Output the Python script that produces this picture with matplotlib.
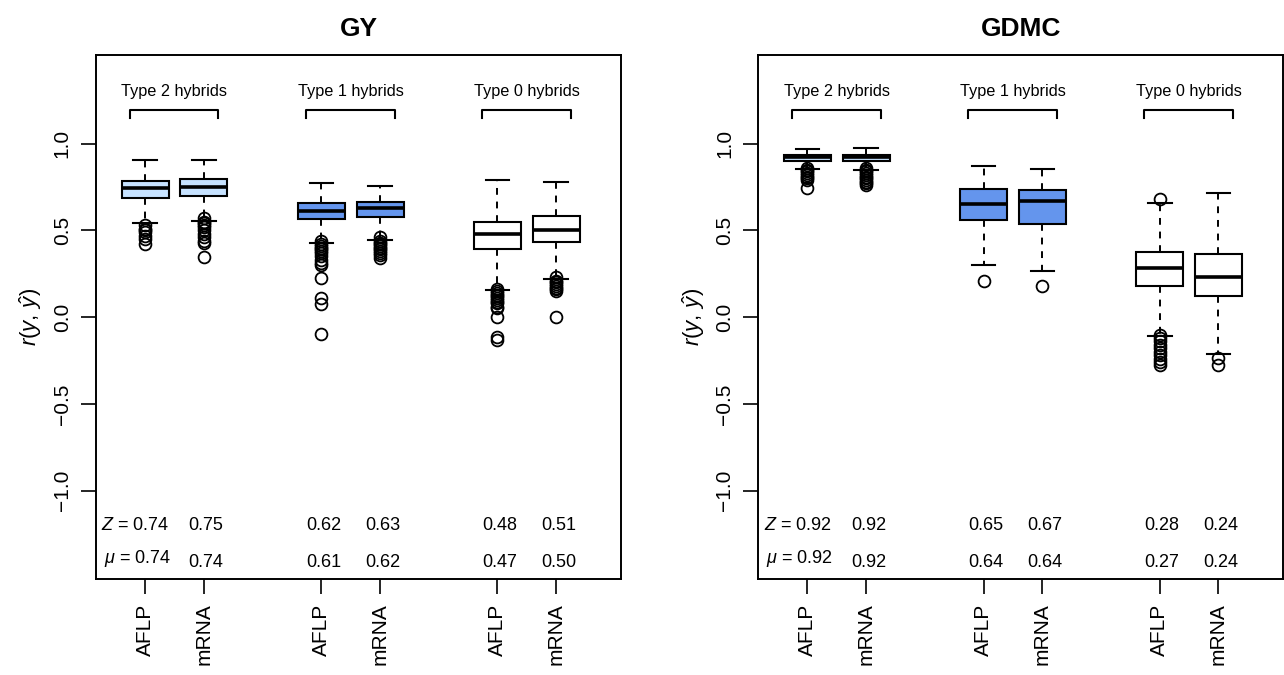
import matplotlib
matplotlib.use('Agg')
import matplotlib.pyplot as plt

plt.rcParams['font.family'] = ['Liberation Sans', 'DejaVu Sans']
plt.rcParams['mathtext.fontset'] = 'custom'
plt.rcParams['mathtext.rm'] = 'Liberation Sans'
plt.rcParams['mathtext.it'] = 'Liberation Sans:italic'

# box positions and labels
positions = [1, 2, 4, 5, 7, 8]
markers = ['AFLP', 'mRNA', 'AFLP', 'mRNA', 'AFLP', 'mRNA']
groups = ['Type 2 hybrids', 'Type 1 hybrids', 'Type 0 hybrids']
group_colors = ['#C6E2FF', '#6495ED', '#FFFFFF']

# GY boxplot stats
gy_med = [0.745, 0.747, 0.614, 0.626, 0.478, 0.503]
gy_q1 = [0.688, 0.697, 0.563, 0.578, 0.390, 0.432]
gy_q3 = [0.787, 0.793, 0.659, 0.666, 0.549, 0.582]
gy_lo = [0.540, 0.555, 0.430, 0.445, 0.159, 0.221]
gy_hi = [0.907, 0.908, 0.774, 0.757, 0.790, 0.776]
gy_out = [
    [0.53, 0.51, 0.50, 0.49, 0.47, 0.45, 0.42],
    [0.57, 0.55, 0.54, 0.53, 0.52, 0.50, 0.48, 0.46, 0.44, 0.43, 0.346],
    [0.44, 0.42, 0.41, 0.40, 0.39, 0.38, 0.37, 0.35, 0.33, 0.31, 0.30, 0.225, 0.113, 0.077, -0.096],
    [0.46, 0.44, 0.43, 0.42, 0.41, 0.40, 0.39, 0.38, 0.37, 0.36, 0.34],
    [0.16, 0.15, 0.14, 0.13, 0.12, 0.11, 0.10, 0.09, 0.08, 0.06, 0.05, 0.0, -0.112, -0.131],
    [0.23, 0.21, 0.20, 0.19, 0.18, 0.17, 0.16, 0.15, 0.0],
]
gy_z = ['0.74', '0.75', '0.62', '0.63', '0.48', '0.51']
gy_mu = ['0.74', '0.74', '0.61', '0.62', '0.47', '0.50']

# GDMC boxplot stats
gd_med = [0.920, 0.920, 0.651, 0.668, 0.282, 0.234]
gd_q1 = [0.901, 0.899, 0.557, 0.538, 0.180, 0.123]
gd_q3 = [0.935, 0.935, 0.736, 0.732, 0.375, 0.363]
gd_lo = [0.851, 0.849, 0.298, 0.265, -0.106, -0.212]
gd_hi = [0.966, 0.974, 0.868, 0.855, 0.657, 0.718]
gd_out = [
    [0.86, 0.85, 0.84, 0.83, 0.82, 0.81, 0.80, 0.79, 0.743],
    [0.86, 0.85, 0.84, 0.83, 0.82, 0.81, 0.80, 0.79, 0.78, 0.77, 0.76],
    [0.211],
    [0.180],
    [0.682, -0.10, -0.12, -0.14, -0.16, -0.18, -0.20, -0.22, -0.24, -0.26, -0.275],
    [-0.236, -0.275],
]
gd_z = ['0.92', '0.92', '0.65', '0.67', '0.28', '0.24']
gd_mu = ['0.92', '0.92', '0.64', '0.64', '0.27', '0.24']


def panel(ax, title, med, q1, q3, lo, hi, out, zs, mus):
    stats = []
    for i in range(len(positions)):
        stats.append(dict(med=med[i], q1=q1[i], q3=q3[i], whislo=lo[i],
                          whishi=hi[i], fliers=out[i], label=markers[i]))
    bp = ax.bxp(stats, positions=positions, widths=0.8, capwidths=0.4,
                patch_artist=True, manage_ticks=False,
                boxprops=dict(linewidth=1.5, edgecolor='black'),
                medianprops=dict(color='black', linewidth=2.6),
                whiskerprops=dict(color='black', linewidth=1.4, linestyle=(0, (3.5, 3.5))),
                capprops=dict(color='black', linewidth=1.5),
                flierprops=dict(marker='o', markerfacecolor='none', markeredgecolor='black',
                                markersize=8.5, markeredgewidth=1.3))
    for i, box in enumerate(bp['boxes']):
        box.set_facecolor(group_colors[i // 2])

    # group brackets
    for g in range(3):
        a = positions[2 * g] - 0.26
        b = positions[2 * g + 1] + 0.25
        ax.plot([a, a, b, b], [1.147, 1.195, 1.195, 1.147], color='black', lw=1.5)
        ax.text((positions[2 * g] + positions[2 * g + 1]) / 2, 1.30, groups[g],
                ha='center', va='center', fontsize=11.7)

    # mean annotations
    for i in range(len(positions)):
        if i == 0:
            ax.text(positions[i] + 0.42, -1.20, '$Z$ = ' + zs[i], ha='right', va='center', fontsize=13)
            ax.text(positions[i] + 0.44, -1.39, r'$\mu$ = ' + mus[i], ha='right', va='center', fontsize=13)
        else:
            ax.text(positions[i] + 0.04, -1.20, zs[i], ha='center', va='center', fontsize=13)
            ax.text(positions[i] + 0.04, -1.415, mus[i], ha='center', va='center', fontsize=13)

    ax.set_xlim(0.165, 9.1)
    ax.set_ylim(-1.51, 1.51)
    ax.set_xticks(positions)
    ax.set_xticklabels(markers, rotation=90, fontsize=15)
    ax.set_yticks([-1.0, -0.5, 0.0, 0.5, 1.0])
    ax.set_yticklabels(['\u22121.0', '\u22120.5', '0.0', '0.5', '1.0'], rotation=90, fontsize=15)
    for lab in ax.get_yticklabels():
        lab.set_va('center')
    ax.tick_params(length=10.5, width=1.2, pad=7)
    for s in ax.spines.values():
        s.set_linewidth(1.4)
    ax.set_ylabel(r'$r(y,\,\hat{y})$', fontsize=16, labelpad=6)
    ax.set_title(title, fontsize=19, fontweight='bold', pad=14)


fig = plt.figure(figsize=(12.84, 6.75), dpi=100)
ax1 = fig.add_axes([0.0748, 0.1418, 0.4087, 0.7767])
ax2 = fig.add_axes([0.5906, 0.1418, 0.4087, 0.7767])

panel(ax1, 'GY', gy_med, gy_q1, gy_q3, gy_lo, gy_hi, gy_out, gy_z, gy_mu)
panel(ax2, 'GDMC', gd_med, gd_q1, gd_q3, gd_lo, gd_hi, gd_out, gd_z, gd_mu)

fig.savefig('out.png', dpi=100)
